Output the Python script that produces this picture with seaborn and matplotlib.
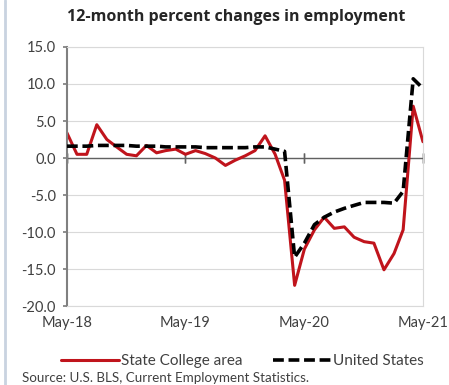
import numpy as np
import pandas as pd
import matplotlib
matplotlib.use("Agg")
import matplotlib.pyplot as plt
import seaborn as sns

months = pd.date_range("2018-05-01", periods=37, freq="MS")
state_college = [3.4, 0.5, 0.5, 4.5, 2.5, 1.5, 0.5, 0.3, 1.7, 0.7, 1.0, 1.2,
                 0.5, 1.0, 0.6, 0.0, -1.0, -0.3, 0.3, 1.0, 3.0, 0.5, -3.0, -17.2,
                 -12.3, -9.7, -8.0, -9.5, -9.3, -10.7, -11.3, -11.5, -15.1, -12.9, -9.7, 7.0,
                 2.2]
united_states = [1.6, 1.6, 1.6, 1.7, 1.7, 1.7, 1.7, 1.6, 1.6, 1.6, 1.5, 1.5,
                 1.5, 1.5, 1.4, 1.4, 1.4, 1.4, 1.4, 1.5, 1.5, 1.2, 0.9, -13.4,
                 -11.5, -9.0, -8.0, -7.3, -6.8, -6.4, -6.0, -6.0, -6.0, -6.1, -4.5, 10.7,
                 9.4]
series_names = ["State College area", "United States"]
tick_labels = ["May-18", "May-19", "May-20", "May-21"]
tick_dates = pd.to_datetime(["2018-05-01", "2019-05-01", "2020-05-01", "2021-05-01"])
y_ticks = [15, 10, 5, 0, -5, -10, -15, -20]

df = pd.DataFrame({
    "month": np.concatenate([months, months]),
    "value": state_college + united_states,
    "series": [series_names[0]] * len(months) + [series_names[1]] * len(months),
})

sns.set_theme(style="white")
plt.rcParams["font.family"] = ["Lato", "DejaVu Sans"]

fig = plt.figure(figsize=(4.49, 3.85), dpi=100)
ax = fig.add_axes([0.149, 0.205, 0.793, 0.673])

ax.axhline(0, color="#606060", linewidth=1.0, zorder=1.5)

sns.lineplot(data=df, x="month", y="value", hue="series", style="series",
             palette={series_names[0]: "#c0141c", series_names[1]: "black"},
             dashes={series_names[0]: "", series_names[1]: (3, 1.3)},
             hue_order=series_names, style_order=series_names,
             ax=ax, legend=False)
lines = [l for l in ax.get_lines() if len(l.get_xdata()) > 2]
lines[0].set_linewidth(2.2)
lines[0].set_zorder(2.5)
lines[1].set_linewidth(2.6)
lines[1].set_zorder(3)

ax.set_ylim(-20, 15)
ax.set_xlim(months[0], months[-1])
ax.set_yticks(y_ticks)
ax.set_yticklabels([f"{v:.1f}" for v in y_ticks], fontsize=10.5, color="#404040")
ax.set_xticks(tick_dates)
ax.set_xticklabels(tick_labels, fontsize=10.5, color="#404040")
ax.tick_params(axis="x", length=0, pad=7)
ax.tick_params(axis="y", length=3, direction="out", color="#808080", pad=5, left=True)
ax.set_xlabel("")
ax.set_ylabel("")
ax.grid(axis="y", color="#d9d9d9", linewidth=0.8)
ax.set_axisbelow(True)
for side in ["top", "right", "bottom"]:
    ax.spines[side].set_color("#d9d9d9")
    ax.spines[side].set_linewidth(0.8)
ax.spines["left"].set_color("#808080")
ax.spines["left"].set_linewidth(1.5)

# tick marks on the zero line (Excel style axis crossing at 0)
zero_frac = (0 - (-20)) / (15 - (-20))
sec = ax.secondary_xaxis(zero_frac)
sec.set_xticks(tick_dates)
sec.set_xticklabels([])
sec.tick_params(axis="both", length=7, direction="inout", color="#606060", width=1,
                top=True, bottom=True)
for s in ["top", "bottom", "left", "right"]:
    sec.spines[s].set_visible(False)

fig.text(0.527, 0.955, "12-month percent changes in employment",
         ha="center", va="center", fontsize=11.5, fontweight="bold", color="#262626",
         family=["Open Sans", "DejaVu Sans"])

fig.legend(handles=lines, labels=series_names, loc="center",
           bbox_to_anchor=(0.54, 0.062), ncol=2, frameon=False, fontsize=11,
           handlelength=3.8, handletextpad=0.15, columnspacing=2.0,
           labelcolor="#404040")

fig.text(0.049, 0.018, "Source: U.S. BLS, Current Employment Statistics.",
         ha="left", va="center", fontsize=9.6, color="#404040")

fig.add_artist(plt.Line2D([0.012, 0.012], [0, 1], color="#c9d3e0", linewidth=2,
                          transform=fig.transFigure))

fig.savefig("out.png", dpi=100)
